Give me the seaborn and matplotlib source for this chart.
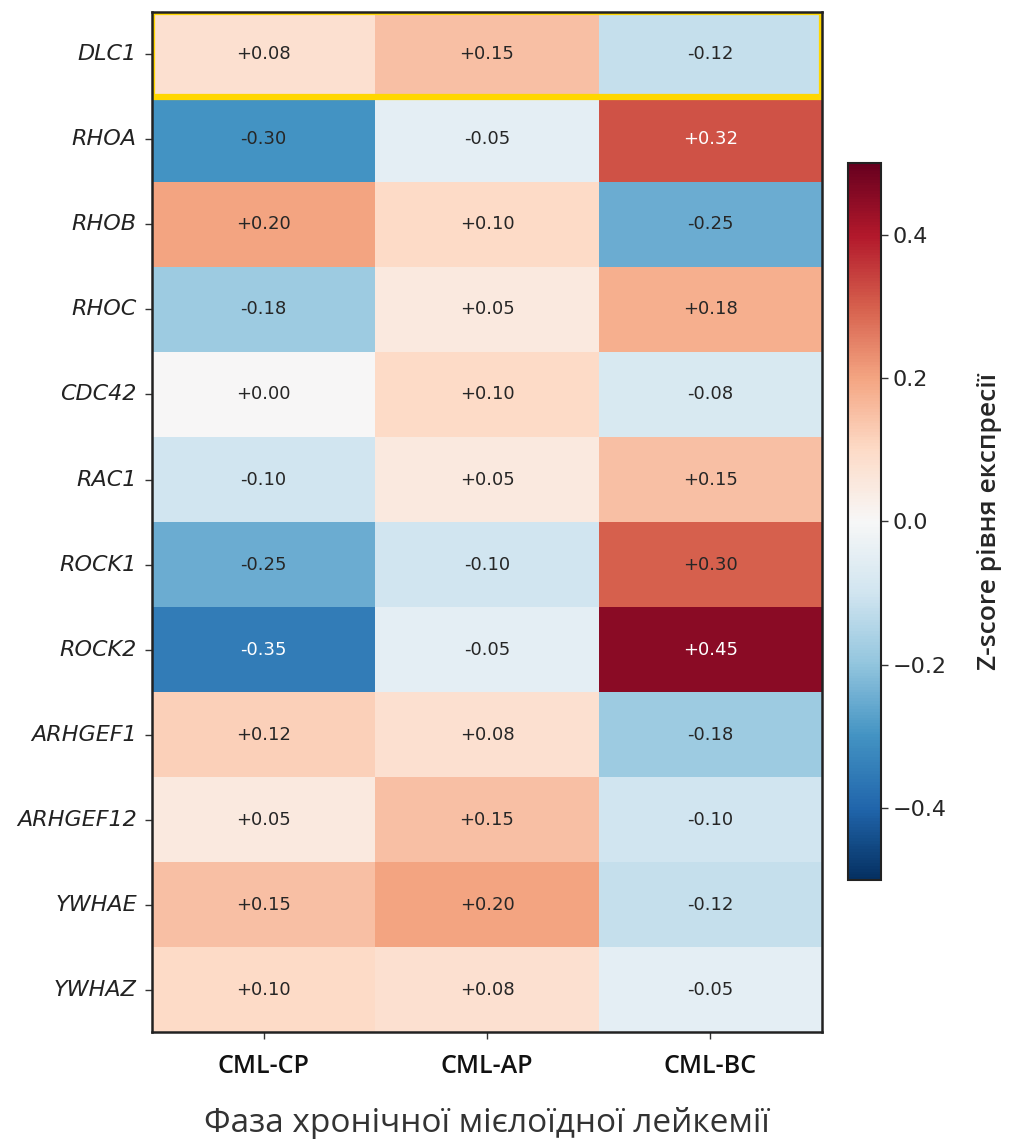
import numpy as np
import pandas as pd
import matplotlib
matplotlib.use("Agg")
import matplotlib.pyplot as plt
import seaborn as sns
from matplotlib.patches import Rectangle

genes = ["DLC1", "RHOA", "RHOB", "RHOC", "CDC42", "RAC1", "ROCK1", "ROCK2",
         "ARHGEF1", "ARHGEF12", "YWHAE", "YWHAZ"]
phases = ["CML-CP", "CML-AP", "CML-BC"]
cml_cp = [0.08, -0.30, 0.20, -0.18, 0.00, -0.10, -0.25, -0.35, 0.12, 0.05, 0.15, 0.10]
cml_ap = [0.15, -0.05, 0.10, 0.05, 0.10, 0.05, -0.10, -0.05, 0.08, 0.15, 0.20, 0.08]
cml_bc = [-0.12, 0.32, -0.25, 0.18, -0.08, 0.15, 0.30, 0.45, -0.18, -0.10, -0.12, -0.05]

df = pd.DataFrame({"CML-CP": cml_cp, "CML-AP": cml_ap, "CML-BC": cml_bc}, index=genes)[phases]

sns.set_theme(style="white")
plt.rcParams['font.family'] = ['DejaVu Sans']

fig = plt.figure(figsize=(10.1, 11.39), dpi=100)
ax = fig.add_axes([0.1505, 0.0939, 0.6634, 0.8956])
cax = fig.add_axes([0.8396, 0.2274, 0.0327, 0.6295])

annot = df.map(lambda v: f"{v:+.2f}")
sns.heatmap(df, ax=ax, cbar_ax=cax, cmap="RdBu_r", vmin=-0.5, vmax=0.5,
            annot=False, linewidths=0)

for i, g in enumerate(genes):
    for j, p in enumerate(phases):
        v = df.loc[g, p]
        col = "white" if abs(v) > 0.305 else "#262626"
        ax.text(j + 0.5, i + 0.5, annot.loc[g, p], ha="center", va="center",
                fontsize=13, color=col)

for s in ax.spines.values():
    s.set_visible(True)
    s.set_color("#222222")
    s.set_linewidth(1.8)
    s.set_zorder(4)

ax.add_patch(Rectangle((0, 0), 3, 1, fill=False, edgecolor="#FFD700", lw=4.5,
                       clip_on=True, zorder=3))

ax.set_yticklabels(genes, rotation=0, fontsize=16, style="italic", color="#222222")
ax.set_xticklabels(phases, rotation=0, fontsize=18, fontweight="semibold",
                   family=["Open Sans", "DejaVu Sans"], color="#111111")
ax.tick_params(axis="both", which="both", length=5, width=1, color="#333333",
               left=True, bottom=True, pad=6)
ax.tick_params(axis="x", pad=11)
ax.set_ylabel("")
ax.set_xlabel("Фаза хронічної мієлоїдної лейкемії", fontsize=24,
              family=["Open Sans", "DejaVu Sans"], color="#333333", labelpad=20)

cb = ax.collections[0].colorbar
cb.outline.set_visible(True)
cb.outline.set_edgecolor("#222222")
cb.outline.set_linewidth(1.5)
cb.set_ticks([-0.4, -0.2, 0.0, 0.2, 0.4])
cb.ax.tick_params(labelsize=16, length=5, width=1, color="#333333", right=True)
cb.set_label("Z-score рівня експресії", fontsize=19, fontweight="semibold",
             family=["Open Sans", "DejaVu Sans"], labelpad=22)

fig.savefig("out.png", dpi=100, facecolor="white")
